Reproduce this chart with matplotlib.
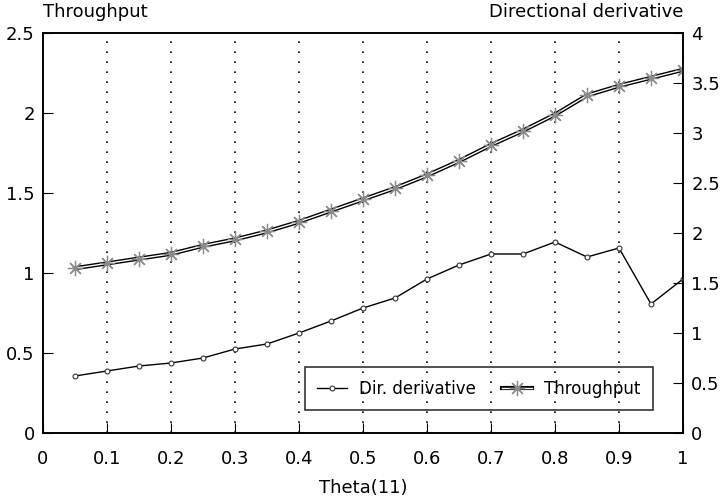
import matplotlib.pyplot as plt
from matplotlib.legend_handler import HandlerTuple

plt.rcParams['font.family'] = 'DejaVu Sans'

theta = [0.05, 0.10, 0.15, 0.20, 0.25, 0.30, 0.35, 0.40, 0.45, 0.50,
         0.55, 0.60, 0.65, 0.70, 0.75, 0.80, 0.85, 0.90, 0.95, 1.00]
throughput = [1.03, 1.06, 1.09, 1.12, 1.17, 1.21, 1.26, 1.32, 1.39, 1.46,
              1.53, 1.61, 1.70, 1.80, 1.89, 1.99, 2.11, 2.17, 2.22, 2.27]
dir_deriv = [0.57, 0.62, 0.67, 0.70, 0.75, 0.84, 0.89, 1.00, 1.12, 1.25,
             1.35, 1.54, 1.68, 1.79, 1.79, 1.91, 1.76, 1.85, 1.29, 1.54]

fig = plt.figure(figsize=(7.21, 4.98), dpi=100)
ax = fig.add_axes([43/721, 65/498, 640/721, 400/498])
ax2 = ax.twinx()

# vertical dotted grid
for xv in [0.1, 0.2, 0.3, 0.4, 0.5, 0.6, 0.7, 0.8, 0.9]:
    ax.axvline(xv, color='black', lw=1.2, ls=(0, (1, 5)), zorder=0)

# throughput: double line with grey asterisks
outer, = ax.plot(theta, throughput, color='black', lw=3.0, zorder=2)
inner, = ax.plot(theta, throughput, color='white', lw=1.0, zorder=3,
                 marker=(8, 2, 0), markersize=11, mec='#8a8a8a', mew=0.9)

# directional derivative on the right axis
dd, = ax2.plot(theta, dir_deriv, color='black', lw=1, marker='o',
               markersize=3.5, mfc='white', mec='#333333', mew=0.8)

ax.set_xlim(0, 1)
ax.set_ylim(0, 2.5)
ax2.set_ylim(0, 4)
ax.set_xticks([0, 0.1, 0.2, 0.3, 0.4, 0.5, 0.6, 0.7, 0.8, 0.9, 1])
ax.set_xticklabels(['0', '0.1', '0.2', '0.3', '0.4', '0.5', '0.6', '0.7', '0.8', '0.9', '1'])
ax.set_yticks([0, 0.5, 1, 1.5, 2, 2.5])
ax.set_yticklabels(['0', '0.5', '1', '1.5', '2', '2.5'])
ax2.set_yticks([0, 0.5, 1, 1.5, 2, 2.5, 3, 3.5, 4])
ax2.set_yticklabels(['0', '0.5', '1', '1.5', '2', '2.5', '3', '3.5', '4'])

ax.tick_params(axis='x', direction='in', length=7, labelsize=13, pad=12)
ax.tick_params(axis='y', direction='in', length=7, labelsize=13, pad=6)
ax2.tick_params(axis='y', direction='in', length=7, labelsize=13, pad=6)
for a in (ax, ax2):
    for s in a.spines.values():
        s.set_linewidth(1.2)

ax.set_xlabel('Theta(11)', fontsize=13, labelpad=8)
ax.text(0, 1.03, 'Throughput', transform=ax.transAxes, fontsize=13,
        ha='left', va='bottom')
ax.text(1, 1.03, 'Directional derivative', transform=ax.transAxes,
        fontsize=13, ha='right', va='bottom')

leg = ax2.legend([dd, (outer, inner)], ['Dir. derivative', 'Throughput'],
                 handler_map={tuple: HandlerTuple(ndivide=1)},
                 ncol=2, loc='lower right', bbox_to_anchor=(0.953, 0.0575),
                 borderaxespad=0, fancybox=False, edgecolor='black',
                 facecolor='none', framealpha=None, fontsize=12,
                 handlelength=1.8, handletextpad=0.7, columnspacing=1.6,
                 borderpad=0.75)
leg.get_frame().set_linewidth(1.2)

fig.savefig('out.png', dpi=100)
